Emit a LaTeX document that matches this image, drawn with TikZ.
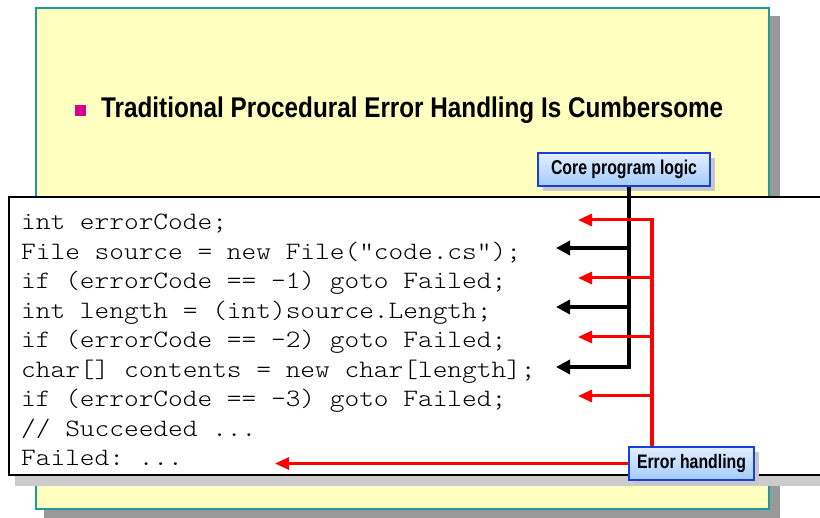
\documentclass[tikz,border=0pt]{standalone}
\usepackage{fontspec}
\setmainfont{Liberation Sans}
\setmonofont{lmmonolt10-regular.otf}[FakeStretch=1.12]
\usepackage{graphicx}
\usepackage{tikz}
\usetikzlibrary{arrows.meta}
\usetikzlibrary{positioning}
\usetikzlibrary{shadows}

\definecolor{slideyellow}{HTML}{FFFFBF}
\definecolor{slideteal}{HTML}{1F9A9A}
\definecolor{bulletpink}{HTML}{D4008F}
\definecolor{tagblue}{HTML}{1A40DC}
\definecolor{tagtop}{HTML}{E2EEFF}
\definecolor{tagbottom}{HTML}{A2CCFF}
\definecolor{errred}{HTML}{FF0000}

\tikzset{
  tag/.style={draw=tagblue, line width=1.6pt, top color=tagtop, bottom color=tagbottom,
    inner sep=0pt, minimum height=33pt,
    drop shadow={shadow xshift=5pt, shadow yshift=-5pt, fill=black!22, opacity=1}},
  codeline/.style={anchor=base west, inner sep=0pt, font=\fontsize{25}{29.5}\selectfont\ttfamily},
  logic/.style={line width=3.5pt, -{Triangle[length=14pt,width=14pt]}},
  handler/.style={errred, line width=3pt, -{Triangle[length=14pt,width=12pt]}},
}

\begin{document}
\begin{tikzpicture}[x=1pt,y=-1pt]
\useasboundingbox (0,0) rectangle (820,518);
% slide
\fill[black!40] (44,16) rectangle (780,518);
\draw[slideteal, line width=2.5pt, fill=slideyellow] (36,8) rectangle (769,509);
\node[fill=bulletpink, minimum size=11pt, inner sep=0pt] (bullet) at (80.5,111) {};
\node[anchor=base west, inner sep=0pt] (title) at (101,118)
  {\resizebox{622pt}{\height}{\bfseries\fontsize{28.5}{30}\selectfont Traditional Procedural Error Handling Is Cumbersome}};
% code box
\fill[black!20] (15,476) rectangle (820,486);
\draw[line width=1.6pt, fill=white] (820,197) -- (9,197) -- (9,475) -- (820,475);
\node[codeline] (l1) at (21,230) {int errorCode;};
\node[codeline] (l2) at (21,259.5) {File source = new File("code.cs");};
\node[codeline] (l3) at (21,289) {if (errorCode == -1) goto Failed;};
\node[codeline] (l4) at (21,318.5) {int length = (int)source.Length;};
\node[codeline] (l5) at (21,348) {if (errorCode == -2) goto Failed;};
\node[codeline] (l6) at (21,377.5) {char[] contents = new char[length];};
\node[codeline] (l7) at (21,407) {if (errorCode == -3) goto Failed;};
\node[codeline] (l8) at (21,436.5) {// Succeeded ...};
\node[codeline] (l9) at (21,466) {Failed: ...};
% labels
\node[tag, minimum width=172pt] (core) at (624,169.5)
  {\resizebox{146pt}{\height}{\bfseries\fontsize{20}{20}\selectfont Core program logic}};
\node[tag, minimum width=125pt] (err) at (691.5,463.5)
  {\resizebox{109pt}{\height}{\bfseries\fontsize{19.5}{19.5}\selectfont Error handling}};
% core logic
\coordinate (k1) at (629,248);
\coordinate (k2) at (629,307);
\coordinate (k3) at (629,367);
\coordinate (k1tip) at (556,248);
\coordinate (k2tip) at (556,307);
\coordinate (k3tip) at (556,367);
\draw[line width=4.5pt] (core.south -| k3) -- ([yshift=2.25pt]k3);
\draw[logic] ([xshift=2pt]k1) -- (k1tip);
\draw[logic] ([xshift=2pt]k2) -- (k2tip);
\draw[logic] ([xshift=2pt]k3) -- (k3tip);
% error handling
\coordinate (r1) at (652,220);
\coordinate (r2) at (652,278);
\coordinate (r3) at (652,337);
\coordinate (r4) at (652,396);
\coordinate (r1tip) at (578,220);
\coordinate (r2tip) at (578,278);
\coordinate (r3tip) at (578,337);
\coordinate (r4tip) at (578,396);
\coordinate (ftip) at (275,463.5);
\draw[errred, line width=4pt] ([yshift=-1.5pt]r1) -- (err.north -| r1);
\draw[handler] ([xshift=2pt]r1) -- (r1tip);
\draw[handler] ([xshift=2pt]r2) -- (r2tip);
\draw[handler] ([xshift=2pt]r3) -- (r3tip);
\draw[handler] ([xshift=2pt]r4) -- (r4tip);
\draw[handler] (err.west) -- (ftip);
\end{tikzpicture}
\end{document}
